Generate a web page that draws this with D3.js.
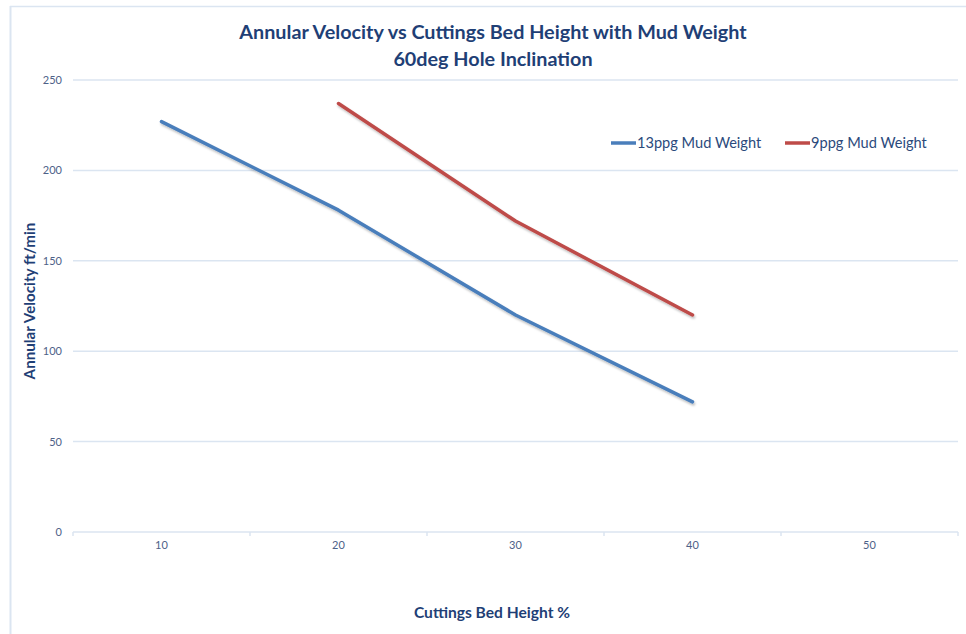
<!DOCTYPE html>
<html>
<head>
<meta charset="utf-8">
<script src="https://cdn.jsdelivr.net/npm/d3@7/dist/d3.min.js"></script>
<style>
  html, body { margin: 0; padding: 0; background: #fff; }
  svg { display: block; font-family: Lato, "Open Sans", sans-serif; }
</style>
</head>
<body>
<svg id="chart" width="966" height="634"></svg>
<script>
// Cuttings bed height categories (%)
const categories = ["10", "20", "30", "40", "50"];
// Annular velocity (ft/min) per series; null where no reading exists
const mud13ppg = [227, 178, 120, 72, null];
const mud9ppg = [null, 237, 172, 120, null];
const yTicks = [0, 50, 100, 150, 200, 250];

const seriesNames = ["13ppg Mud Weight", "9ppg Mud Weight"];
const seriesValues = [mud13ppg, mud9ppg];
const seriesColors = ["#4a7ebb", "#be4b48"];

const svg = d3.select("#chart");
const W = 966, H = 634;
const plot = { left: 73, right: 958, top: 80, bottom: 532 };

const gridColor = "#dbe5f1";
const textColor = "#4d6188";
const titleColor = "#1f3f76";

// Outer frame (top and left edges visible)
svg.append("line").attr("x1", 10).attr("x2", W).attr("y1", 6.5).attr("y2", 6.5)
  .attr("stroke", gridColor).attr("stroke-width", 1.5);
svg.append("line").attr("x1", 10.5).attr("x2", 10.5).attr("y1", 6).attr("y2", H)
  .attr("stroke", gridColor).attr("stroke-width", 2);

// Drop shadow for series lines
const defs = svg.append("defs");
const f = defs.append("filter").attr("id", "shadow")
  .attr("x", "-10%").attr("y", "-10%").attr("width", "120%").attr("height", "130%");
f.append("feDropShadow").attr("dx", 1).attr("dy", 2).attr("stdDeviation", 1.2)
  .attr("flood-color", "#000").attr("flood-opacity", 0.25);

const x = d3.scaleBand().domain(categories).range([plot.left, plot.right]);
const y = d3.scaleLinear().domain([0, 250]).range([plot.bottom, plot.top]);

// Horizontal gridlines
svg.append("g").selectAll("line").data(yTicks.filter(d => d > 0)).join("line")
  .attr("x1", plot.left).attr("x2", plot.right)
  .attr("y1", d => y(d)).attr("y2", d => y(d))
  .attr("stroke", gridColor).attr("stroke-width", 1.5);

// Y axis labels
const yAxis = d3.axisLeft(y).tickValues(yTicks).tickSize(0).tickPadding(11);
const gy = svg.append("g").attr("transform", `translate(${plot.left},0)`).call(yAxis);
gy.select(".domain").remove();
gy.selectAll("text").attr("fill", textColor).attr("font-size", 11)
  .attr("font-family", "Lato, 'Open Sans', sans-serif");

// X axis with tick marks on category boundaries
const gx = svg.append("g").attr("transform", `translate(0,${plot.bottom})`);
gx.append("line").attr("x1", plot.left).attr("x2", plot.right)
  .attr("stroke", gridColor).attr("stroke-width", 1.5);
const bounds = categories.map(c => x(c)).concat([plot.right]);
gx.selectAll("line.tick").data(bounds).join("line").attr("class", "tick")
  .attr("x1", d => d).attr("x2", d => d).attr("y1", 0).attr("y2", 4)
  .attr("stroke", gridColor).attr("stroke-width", 1.5);
gx.selectAll("text").data(categories).join("text")
  .attr("x", d => x(d) + x.bandwidth() / 2).attr("y", 17)
  .attr("text-anchor", "middle").attr("fill", textColor).attr("font-size", 11)
  .text(d => d);

// Series lines
const line = d3.line()
  .defined(d => d.v != null)
  .x(d => x(d.c) + x.bandwidth() / 2)
  .y(d => y(d.v));

seriesValues.forEach((vals, i) => {
  const pts = categories.map((c, j) => ({ c, v: vals[j] }));
  svg.append("path").datum(pts).attr("d", line)
    .attr("fill", "none").attr("stroke", seriesColors[i]).attr("stroke-width", 3.5)
    .attr("stroke-linecap", "round").attr("stroke-linejoin", "round")
    .attr("filter", "url(#shadow)");
});

// Legend
const legendX = [611, 785];
seriesNames.forEach((name, i) => {
  const g = svg.append("g").attr("transform", `translate(${legendX[i]},143)`);
  g.append("line").attr("x1", 0).attr("x2", 25).attr("y1", 0).attr("y2", 0)
    .attr("stroke", seriesColors[i]).attr("stroke-width", 3.5);
  g.append("text").attr("x", 26).attr("y", 5).attr("fill", "#2b4a7c")
    .attr("font-size", 14.6).text(name);
});

// Title
const title = svg.append("text").attr("text-anchor", "middle")
  .attr("fill", titleColor).attr("font-weight", "bold").attr("font-size", 19.8);
title.append("tspan").attr("x", 493).attr("y", 39)
  .text("Annular Velocity vs Cuttings Bed Height with Mud Weight");
title.append("tspan").attr("x", 493).attr("y", 66).text("60deg Hole Inclination");

// Axis titles
svg.append("text").attr("transform", "translate(35,301) rotate(-90)")
  .attr("text-anchor", "middle").attr("fill", titleColor)
  .attr("font-weight", "bold").attr("font-size", 15.2)
  .text("Annular Velocity ft/min");
svg.append("text").attr("x", 492).attr("y", 618)
  .attr("text-anchor", "middle").attr("fill", titleColor)
  .attr("font-weight", "bold").attr("font-size", 15.6)
  .text("Cuttings Bed Height %");
</script>
</body>
</html>
